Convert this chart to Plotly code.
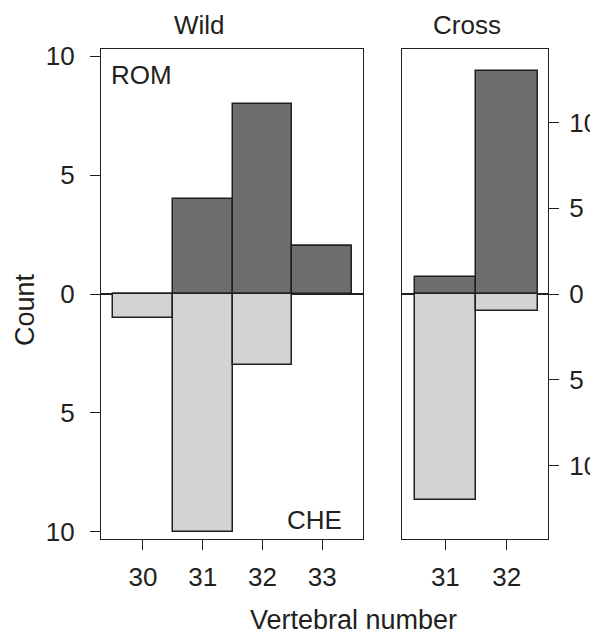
import plotly.graph_objects as go

# Data
wild_x = [30, 31, 32, 33]
wild_rom = [0, 4, 8, 2]
wild_che = [1, 10, 3, 0]
cross_x = [31, 32]
cross_rom = [1, 13]
cross_che = [12, 1]

ytick_vals_left = [-10, -5, 0, 5, 10]
ytick_text_left = ["10", "5", "0", "5", "10"]
ytick_vals_right = [-10, -5, 0, 5, 10]
ytick_text_right = ["10", "5", "0", "5", "10"]

DARK = "#6d6e70"
LIGHT = "#d1d3d4"
INK = "#231f20"
OFF = 8  # page body margin
W, H = 598 - OFF, 638 - OFF
FONT = "Liberation Sans, Arial, sans-serif"

def px(x):
    return (x - OFF) / W

def py(y):
    return 1 - (y - OFF) / H

fig = go.Figure()

def add_bars(x, rom, che, xa, ya):
    fig.add_trace(go.Bar(x=x, y=rom, width=1, marker=dict(color=DARK, line=dict(color=INK, width=1.5)),
                         xaxis=xa, yaxis=ya, showlegend=False))
    fig.add_trace(go.Bar(x=x, y=[-v for v in che], width=1, marker=dict(color=LIGHT, line=dict(color=INK, width=1.5)),
                         xaxis=xa, yaxis=ya, showlegend=False))

add_bars(wild_x, wild_rom, wild_che, "x", "y")
add_bars(cross_x, cross_rom, cross_che, "x2", "y2")

ydom = [py(539), py(49)]
axis_common = dict(showline=True, linecolor=INK, linewidth=1.3, mirror=True, ticks="outside",
                   ticklen=10, tickwidth=1.3, tickcolor=INK, showgrid=False, automargin=False,
                   tickfont=dict(family=FONT, size=26, color=INK))

fig.update_layout(
    width=W, height=H, margin=dict(l=0, r=0, t=0, b=0, autoexpand=False),
    plot_bgcolor="white", paper_bgcolor="white", barmode="relative", bargap=0,
    xaxis=dict(domain=[px(101), px(363)], range=[29.3, 33.68], tickvals=wild_x,
               ticklabelstandoff=5, zeroline=False, **axis_common),
    xaxis2=dict(domain=[px(402), px(548)], range=[30.295, 32.67], tickvals=cross_x,
                ticklabelstandoff=5, zeroline=False, **axis_common),
    yaxis=dict(domain=ydom, range=[-10.31, 10.31], tickvals=ytick_vals_left, ticktext=ytick_text_left,
               anchor="x", side="left", zeroline=True, zerolinecolor=INK, zerolinewidth=2,
               ticklabelstandoff=10, **axis_common),
    yaxis2=dict(domain=ydom, range=[-14.28, 14.28], tickvals=ytick_vals_right, ticktext=ytick_text_right,
                anchor="x2", side="right", zeroline=True, zerolinecolor=INK, zerolinewidth=2,
                ticklabelstandoff=5, **axis_common),
    font=dict(family=FONT, size=26, color=INK),
)

def ann(text, x, y, xanchor="center", yanchor="middle", angle=0, size=26):
    fig.add_annotation(text=text, x=px(x), y=py(y), xref="paper", yref="paper",
                       xanchor=xanchor, yanchor=yanchor, showarrow=False, textangle=angle,
                       borderpad=0, font=dict(family=FONT, size=size, color=INK))

ann("Wild", 199, 25)
ann("Cross", 467, 25)
ann("ROM", 110, 75, xanchor="left")
ann("CHE", 343, 520, xanchor="right")
ann("Count", 25, 310, angle=-90, size=27)
ann("Vertebral number", 353, 620, size=27)

fig.write_html("out.html")
